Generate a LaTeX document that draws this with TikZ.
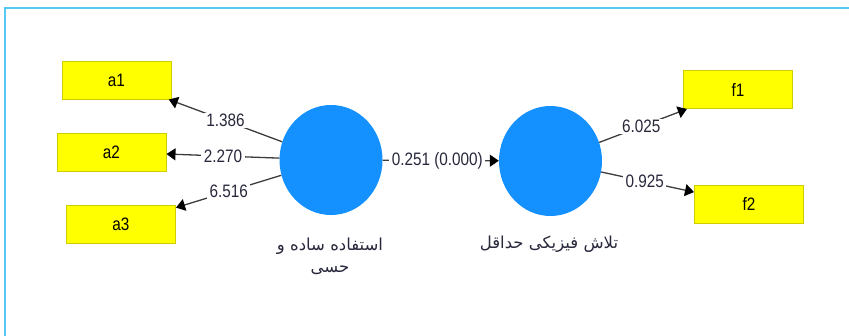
\documentclass[tikz,border=0pt]{standalone}
\usepackage{fontspec}
\setmainfont[FakeStretch=0.85]{Liberation Sans}
\newfontfamily\arabicfont[Script=Arabic]{DejaVu Sans}
\TeXXeTstate=1
\usetikzlibrary{shapes.geometric,arrows.meta}
\definecolor{framec}{RGB}{85,200,245}
\definecolor{circc}{RGB}{20,145,255}
\definecolor{boxc}{RGB}{255,255,0}
\definecolor{boxedge}{RGB}{205,205,0}
\definecolor{linec}{RGB}{60,60,60}
\definecolor{labc}{RGB}{40,40,60}
\tikzset{
  indbox/.style={draw=boxedge, line width=1pt, fill=boxc, minimum width=109pt, minimum height=38pt, inner sep=0pt, font=\fontsize{18}{20}\selectfont},
  latent/.style={ellipse, fill=circc, minimum width=103pt, minimum height=110pt, inner sep=0pt},
  conn/.style={draw=linec, line width=1.3pt, -{Triangle[length=9pt,width=12pt,color=black,fill=black]}},
  wlab/.style={fill=white, inner xsep=2.5pt, inner ysep=1pt, text=labc, font=\fontsize{18}{20}\selectfont},
  arlab/.style={text=labc, font=\arabicfont\fontsize{16.5}{22}\selectfont, align=center},
  framel/.style={draw=framec, line width=2pt}
}
\begin{document}
\begin{tikzpicture}[x=1pt,y=-1pt]
\useasboundingbox (0,0) rectangle (849,335);
\draw[framel] (852,8) -- (5,8) -- (5,338);
\node[indbox] (a1) at (116.5,80) {a1};
\node[indbox] (a2) at (111.5,152) {a2};
\node[indbox] (a3) at (121,224.5) {a3};
\node[indbox] (f1) at (738,89.5) {f1};
\node[indbox] (f2) at (749,204) {f2};
\node[latent] (c1) at (331,160) {};
\node[latent] (c2) at (550.5,161) {};
\draw[conn] (c1) -- node[wlab, pos=0.5] {1.386} (a1);
\draw[conn] (c1) -- node[wlab, pos=0.5] {2.270} (a2);
\draw[conn] (c1) -- node[wlab, pos=0.5] {6.516} (a3);
\draw[conn] (c1) -- node[wlab, pos=0.47] {0.251 (0.000)} (c2);
\draw[conn] (c2) -- node[wlab, pos=0.48] {6.025} (f1);
\draw[conn] (c2) -- node[wlab, pos=0.47] {0.925} (f2);
\node[arlab] (l1) at (330,256) {\beginR استفاده ساده و\endR\\\beginR حسی\endR};
\node[arlab] (l2) at (549,244) {\beginR تلاش فیزیکی حداقل\endR};
\end{tikzpicture}
\end{document}
